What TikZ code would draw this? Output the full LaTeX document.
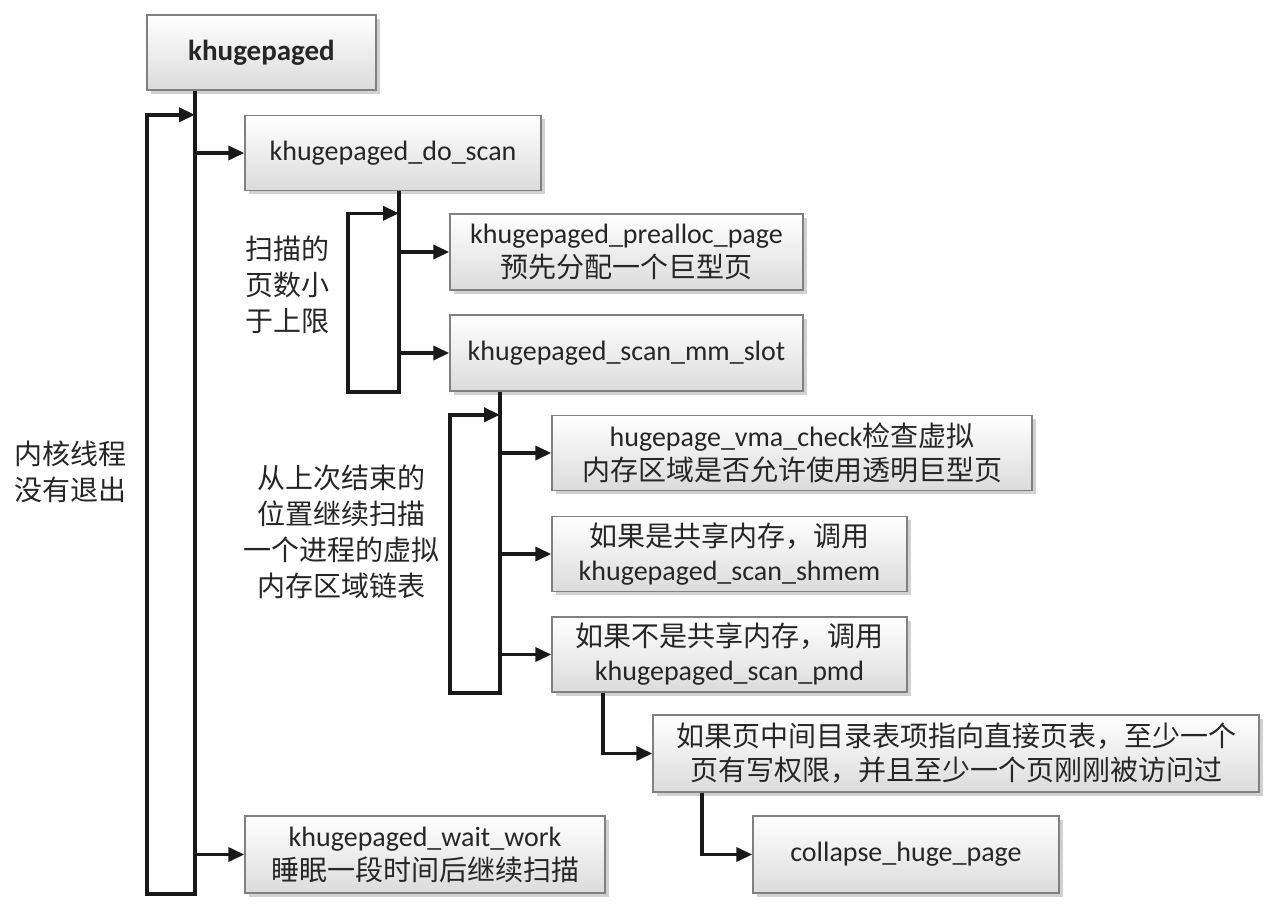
\documentclass[tikz,border=0pt]{standalone}
\usepackage{fontspec}
\setmainfont{Carlito}
\newfontfamily\cjk{Noto Sans CJK SC}
\usetikzlibrary{arrows.meta,shadows}

\begin{document}
\begin{tikzpicture}[
			x=0.5pt, y=-0.5pt
			,every node/.append style={font=\fontsize{14}{17}\selectfont, text=black!85}
			,fn/.style={draw=black!50, line width=0.7pt, top color=white, bottom color=black!14,
				align=center, inner sep=0pt, minimum height=37.5pt,
				drop shadow={shadow xshift=1.8pt, shadow yshift=-1.8pt, opacity=0.18, fill=black}}
			,note/.style={align=center, font=\cjk\fontsize{14}{18}\selectfont}
			,flow/.style={line width=1.8pt, black!90}
			,call/.style={flow, -{Triangle[length=8pt, width=7pt]}}
		]
			\useasboundingbox (0,0) rectangle (1280,910);

			\node [fn, minimum width=114.5pt, font=\bfseries\fontsize{14.5}{17}\selectfont] (kd) at (261.5,52.5) {khugepaged};
			\node [fn, minimum width=148pt] (doscan) at (393,153) {khugepaged\_do\_scan};
			\node [fn, minimum width=176.5pt, minimum height=38pt] (prealloc) at (626.5,252)
				{khugepaged\_prealloc\_page\\{\cjk 预先分配一个巨型页}};
			\node [fn, minimum width=176.5pt, minimum height=38pt] (mmslot) at (626.5,353) {khugepaged\_scan\_mm\_slot};
			\node [fn, minimum width=240pt] (vmacheck) at (792,453)
				{hugepage\_vma\_check{\cjk 检查虚拟}\\{\cjk 内存区域是否允许使用透明巨型页}};
			\node [fn, minimum width=177.5pt] (shmem) at (729.5,554)
				{{\cjk 如果是共享内存，调用}\\khugepaged\_scan\_shmem};
			\node [fn, minimum width=177.5pt] (pmd) at (729.5,654.5)
				{{\cjk 如果不是共享内存，调用}\\khugepaged\_scan\_pmd};
			\node [fn, minimum width=303pt, minimum height=38.5pt] (pmdok) at (956,753.5)
				{{\cjk 如果页中间目录表项指向直接页表，至少一个}\\{\cjk 页有写权限，并且至少一个页刚刚被访问过}};
			\node [fn, minimum width=153pt, minimum height=38.5pt] (collapse) at (906,854.5) {collapse\_huge\_page};
			\node [fn, minimum width=180pt, minimum height=38.5pt] (wait) at (425,854.5)
				{khugepaged\_wait\_work\\{\cjk 睡眠一段时间后继续扫描}};

			\node [note] (alive) at (70,472) {内核线程\\没有退出};
			\node [note] (limit) at (287,285) {扫描的\\页数小\\于上限};
			\node [note] (resume) at (341,532) {从上次结束的\\位置继续扫描\\一个进程的虚拟\\内存区域链表};

			\coordinate (busA) at (195,0);
			\coordinate (loopA) at (147,0);
			\coordinate (busB) at (399,0);
			\coordinate (loopB) at (348,0);
			\coordinate (busC) at (500,0);
			\coordinate (loopC) at (450,0);
			\coordinate (busD) at (603,0);
			\coordinate (busE) at (702,0);

			% thread loop
			\draw [call] (busA |- kd.south) -- (busA |- wait.south) -- (loopA |- wait.south)
				-- (loopA |- doscan.north) -- (busA |- doscan.north);
			\draw [call] (busA |- doscan.west) -- (doscan.west);
			\draw [call] (busA |- wait.west) -- (wait.west);

			% scan loop
			\draw [call] (busB |- doscan.south) -- (busB |- mmslot.south) -- (loopB |- mmslot.south)
				-- (loopB |- prealloc.north) -- (busB |- prealloc.north);
			\draw [call] (busB |- prealloc.west) -- (prealloc.west);
			\draw [call] (busB |- mmslot.west) -- (mmslot.west);

			% vma loop
			\draw [call] (busC |- mmslot.south) -- (busC |- pmd.south) -- (loopC |- pmd.south)
				-- (loopC |- vmacheck.north) -- (busC |- vmacheck.north);
			\draw [call] (busC |- vmacheck.west) -- (vmacheck.west);
			\draw [call] (busC |- shmem.west) -- (shmem.west);
			\draw [call] (busC |- pmd.west) -- (pmd.west);

			\draw [call] (busD |- pmd.south) -- (busD |- pmdok.west) -- (pmdok.west);
			\draw [call] (busE |- pmdok.south) -- (busE |- collapse.west) -- (collapse.west);
		\end{tikzpicture}
\end{document}
